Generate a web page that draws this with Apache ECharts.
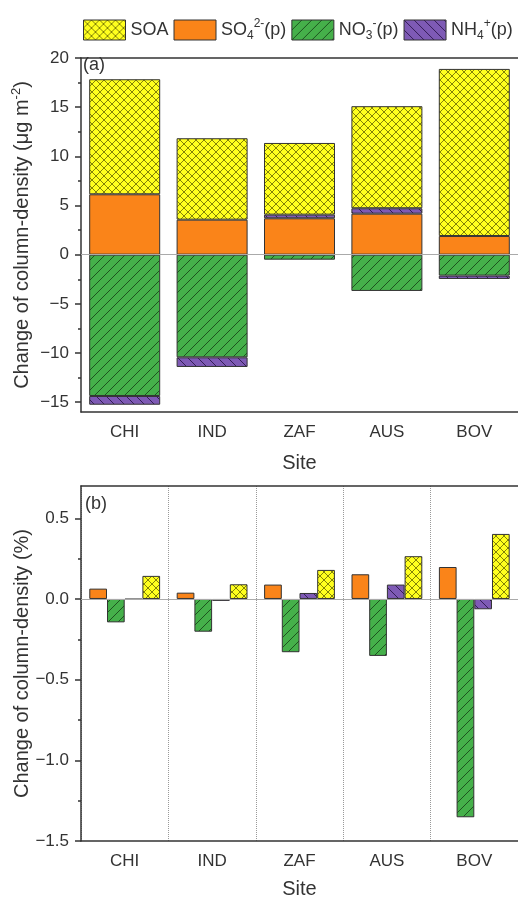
<!DOCTYPE html>
<html><head><meta charset="utf-8">
<script src="https://cdn.jsdelivr.net/npm/echarts@6/dist/echarts.min.js"></script>
<style>html,body{margin:0;padding:0;background:#fff}#c{width:518px;height:897px}</style>
</head><body><div id="c"></div>
<script>
const sites = ['CHI', 'IND', 'ZAF', 'AUS', 'BOV'];
// panel (a): change of column density, μg m-2 (stacked)
const aSOA = [11.70, 8.28, 7.29, 10.38, 16.99];
const aSO4 = [6.14, 3.56, 3.70, 4.17, 1.90];
const aNO3 = [-14.37, -10.44, -0.51, -3.69, -2.13];
const aNH4 = [-0.89, -0.98, 0.37, 0.55, -0.34];
// panel (b): change of column density, %
const bSO4 = [0.064, 0.039, 0.089, 0.153, 0.198];
const bNO3 = [-0.145, -0.203, -0.330, -0.353, -1.353];
const bNH4 = [-0.003, -0.012, 0.037, 0.089, -0.064];
const bSOA = [0.143, 0.091, 0.180, 0.265, 0.403];
const aTicks = [-15, -10, -5, 0, 5, 10, 15, 20];
const aMinor = [-12.5, -7.5, -2.5, 2.5, 7.5, 12.5, 17.5];
const bTicks = [-1.5, -1.0, -0.5, 0, 0.5];
const bMinor = [-1.25, -0.75, -0.25, 0.25];

const FF = '"Liberation Sans", Arial, sans-serif';
const TXT = '#333';
const AX = '#333';

function pat(bg, mode, s, lc) {
  const c = document.createElement('canvas'); c.width = s; c.height = s;
  const g = c.getContext('2d');
  g.fillStyle = bg; g.fillRect(0, 0, s, s);
  g.strokeStyle = lc; g.lineWidth = 1;
  g.beginPath();
  if (mode === '/' || mode === 'x') { for (const o of [-s, 0, s]) { g.moveTo(o - 1, s + 1); g.lineTo(o + s + 1, -1); } }
  if (mode === '\\' || mode === 'x') { for (const o of [-s, 0, s]) { g.moveTo(o - 1, -1); g.lineTo(o + s + 1, s + 1); } }
  g.stroke();
  return { image: c, repeat: 'repeat' };
}
const cSOA = pat('#FFFF1E', 'x', 8, 'rgba(90,90,0,0.75)');
const cSO4 = '#FA8419';
const cNO3 = pat('#45B04A', '/', 10, 'rgba(20,60,20,0.8)');
const cNH4 = pat('#7E5AB5', '\\', 10, 'rgba(40,20,70,0.85)');
const fills = { SOA: cSOA, SO4: cSO4, NO3: cNO3, NH4: cNH4 };

function mkRich(fs) {
  return {
    sub: { fontSize: fs, lineHeight: fs, verticalAlign: 'bottom', fontFamily: FF, color: TXT },
    sup: { fontSize: fs, lineHeight: fs, verticalAlign: 'top', fontFamily: FF, color: TXT }
  };
}
const legendNames = {
  SOA: 'SOA',
  SO4: 'SO{sub|4}{sup|2-}(p)',
  NO3: 'NO{sub|3}{sup|-}(p)',
  NH4: 'NH{sub|4}{sup|+}(p)'
};

function xAxes(grid, gap) {
  const line = { onZero: false, lineStyle: { color: AX, width: 1.5 } };
  const tick = { color: AX, width: 1.5 };
  return [
    { type: 'category', gridIndex: grid, data: sites, position: 'bottom',
      axisLine: line, axisTick: { alignWithLabel: true, length: 6, lineStyle: tick },
      axisLabel: { fontSize: 17, color: TXT, margin: 12, fontFamily: FF },
      name: 'Site', nameLocation: 'middle', nameGap: gap, nameMoveOverlap: false,
      nameTextStyle: { fontSize: 20, color: TXT, fontFamily: FF } },
    { type: 'category', gridIndex: grid, data: sites, position: 'bottom',
      axisLine: { show: false, onZero: false }, axisTick: { length: 3, lineStyle: tick },
      axisLabel: { show: false },
      splitLine: { show: grid === 1, lineStyle: { type: 'dotted', color: '#999', width: 1 } } },
    { type: 'category', gridIndex: grid, data: sites, position: 'top',
      axisLine: line, axisTick: { alignWithLabel: true, inside: true, length: 6, lineStyle: tick },
      axisLabel: { show: false } },
    { type: 'category', gridIndex: grid, data: sites, position: 'top',
      axisLine: { show: false, onZero: false }, axisTick: { inside: true, length: 3, lineStyle: tick },
      axisLabel: { show: false } }
  ];
}
function yAxes(grid, min, max, major, minor, fmt, name, gap) {
  const tick = { color: AX, width: 1.5 };
  return [
    { type: 'value', gridIndex: grid, min: min, max: max, position: 'left',
      axisLine: { show: true, lineStyle: { color: AX, width: 1.5 } },
      axisTick: { show: true, customValues: major, length: 6, lineStyle: tick },
      axisLabel: { customValues: major, formatter: fmt, fontSize: 17, color: TXT, margin: 12, fontFamily: FF },
      splitLine: { show: false },
      name: name, nameLocation: 'middle', nameGap: gap, nameRotate: 90, nameMoveOverlap: false,
      nameTextStyle: { fontSize: 20, color: TXT, fontFamily: FF, lineHeight: 24, rich: mkRich(13) } },
    { type: 'value', gridIndex: grid, min: min, max: max, position: 'left',
      axisLine: { show: false }, axisTick: { show: true, customValues: minor, length: 3, lineStyle: tick },
      axisLabel: { show: false }, splitLine: { show: false } }
  ];
}
const fmtA = v => (v < 0 ? '\u2212' : '') + Math.abs(v);
const fmtB = v => (v < 0 ? '\u2212' : '') + Math.abs(v).toFixed(1);

const zeroLine = { silent: true, symbol: 'none', label: { show: false },
  lineStyle: { color: '#aaa', width: 1, type: 'solid' }, data: [{ yAxis: 0 }] };

function sa(name, data, withZero) {
  const s = { name: name, type: 'bar', stack: 'a', xAxisIndex: 0, yAxisIndex: 0, data: data,
    barWidth: 71, itemStyle: { color: fills[name], borderColor: '#333', borderWidth: 1 },
    emphasis: { disabled: true } };
  if (withZero) s.markLine = zeroLine;
  return s;
}
function sb(name, data, withZero) {
  const s = { name: name, type: 'bar', xAxisIndex: 4, yAxisIndex: 2, data: data,
    barGap: '0%', barCategoryGap: '19%',
    itemStyle: { color: fills[name], borderColor: '#333', borderWidth: 1 },
    emphasis: { disabled: true } };
  if (withZero) s.markLine = zeroLine;
  return s;
}

const chart = echarts.init(document.getElementById('c'), null, { renderer: 'canvas' });
chart.setOption({
  animation: false,
  backgroundColor: '#fff',
  legend: {
    left: 83, top: 18, padding: 0, itemWidth: 42, itemHeight: 20, itemGap: 5, icon: 'rect',
    data: ['SOA', 'SO4', 'NO3', 'NH4'],
    formatter: n => legendNames[n],
    itemStyle: { borderColor: '#333', borderWidth: 1 },
    textStyle: { fontSize: 18, color: TXT, fontFamily: FF, lineHeight: 24, rich: mkRich(12) }
  },
  grid: [
    { left: 81, right: 0, top: 58, height: 354, containLabel: false, outerBoundsMode: 'none' },
    { left: 81, right: 0, top: 486, height: 355, containLabel: false, outerBoundsMode: 'none' }
  ],
  xAxis: xAxes(0, 41).concat(xAxes(1, 38)),
  yAxis: yAxes(0, -16, 20, aTicks, aMinor, fmtA, 'Change of column-density (μg m{sup|-2})', 47)
    .concat(yAxes(1, -1.5, 0.7, bTicks, bMinor, fmtB, 'Change of column-density (%)', 47)),
  graphic: [
    { type: 'text', left: 83, top: 56, style: { text: '(a)', fontSize: 18, fill: TXT, fontFamily: FF } },
    { type: 'text', left: 85, top: 495, style: { text: '(b)', fontSize: 18, fill: TXT, fontFamily: FF } }
  ],
  series: [
    sa('SO4', aSO4, true), sa('NO3', aNO3), sa('NH4', aNH4), sa('SOA', aSOA),
    sb('SO4', bSO4, true), sb('NO3', bNO3), sb('NH4', bNH4), sb('SOA', bSOA)
  ]
});
</script></body></html>
